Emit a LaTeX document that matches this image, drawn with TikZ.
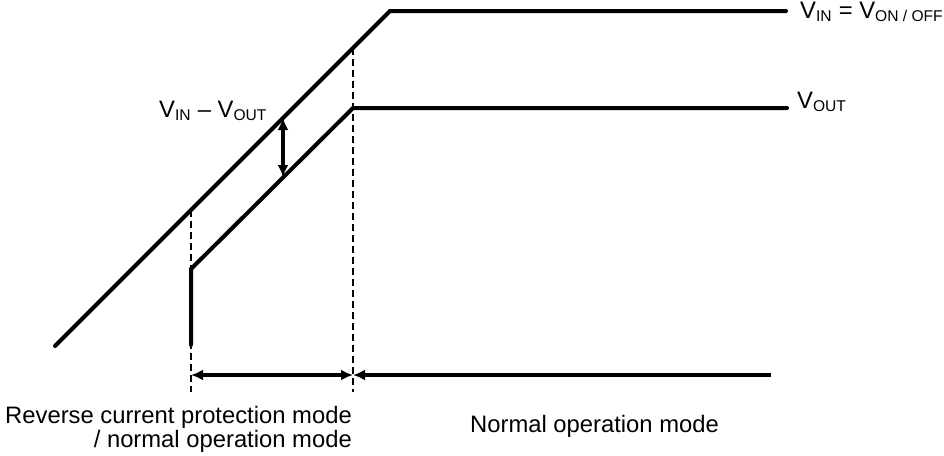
\documentclass[tikz,border=0pt]{standalone}
\usepackage{fontspec}
\setmainfont{Liberation Sans}
\usetikzlibrary{arrows.meta}
\newcommand{\lowtext}[1]{\textsubscript{\fontsize{15.6}{15.6}\selectfont #1}}

\begin{document}
\begin{tikzpicture}[
                x=1pt, y=-1pt,
                >={Latex[length=12pt, width=11pt]},
                rail/.style={line width=4pt, line cap=round}, % Voltage curves
                marker/.style={line width=2.8pt, dash pattern=on 7pt off 4pt}, % Mode boundaries
                span/.style={line width=3.2pt}, % Dimension arrows
                every node/.style={inner sep=0pt, font=\fontsize{23.8}{24.5}\selectfont}
                ]
                \useasboundingbox (0,0) rectangle (944,455);
                % input curve
                \coordinate (vinstart) at (55,346);
                \coordinate (vinknee) at (390,11);
                \coordinate (vinend) at (786,11);
                % output curve
                \coordinate (voutstart) at (191,345);
                \coordinate (voutjump) at (191,269);
                \coordinate (voutknee) at (353,108);
                \coordinate (voutend) at (787,108);
                % boundaries
                \coordinate (leftmark) at (191,210);
                \coordinate (leftfoot) at (191,392);
                \coordinate (rightmark) at (353,48);
                \coordinate (rightfoot) at (353,392);
                % dimension points
                \coordinate (droptop) at (283,118);
                \coordinate (dropbottom) at (283,177);
                \coordinate (spanleft) at (191,375);
                \coordinate (spanmid) at (353,375);
                \coordinate (spanright) at (771,375);

                \draw[rail] (vinstart) -- (vinknee) -- (vinend);
                \draw[rail] (voutstart) -- (voutjump) -- (voutknee) -- (voutend);
                \draw[marker] (leftmark) -- (leftfoot);
                \draw[marker] (rightmark) -- (rightfoot);
                \draw[span, <->] (droptop) -- (dropbottom);
                \draw[span, <->] (spanleft) -- (spanmid);
                \draw[span, <-] (spanmid) -- (spanright);

                \node[anchor=base west] (vinlabel) at (800,18) {V\lowtext{IN} = V\lowtext{ON / OFF}};
                \node[anchor=base west] (voutlabel) at (797,108) {V\lowtext{OUT}};
                \node[anchor=base west] (droplabel) at (159,117) {V\lowtext{IN} -- V\lowtext{OUT}};
                \node[anchor=north east, align=right] (reverselabel) at (352,406) {Reverse current protection mode\\/ normal operation mode};
                \node[anchor=base west] (normallabel) at (470,432) {Normal operation mode};
            \end{tikzpicture}
\end{document}
